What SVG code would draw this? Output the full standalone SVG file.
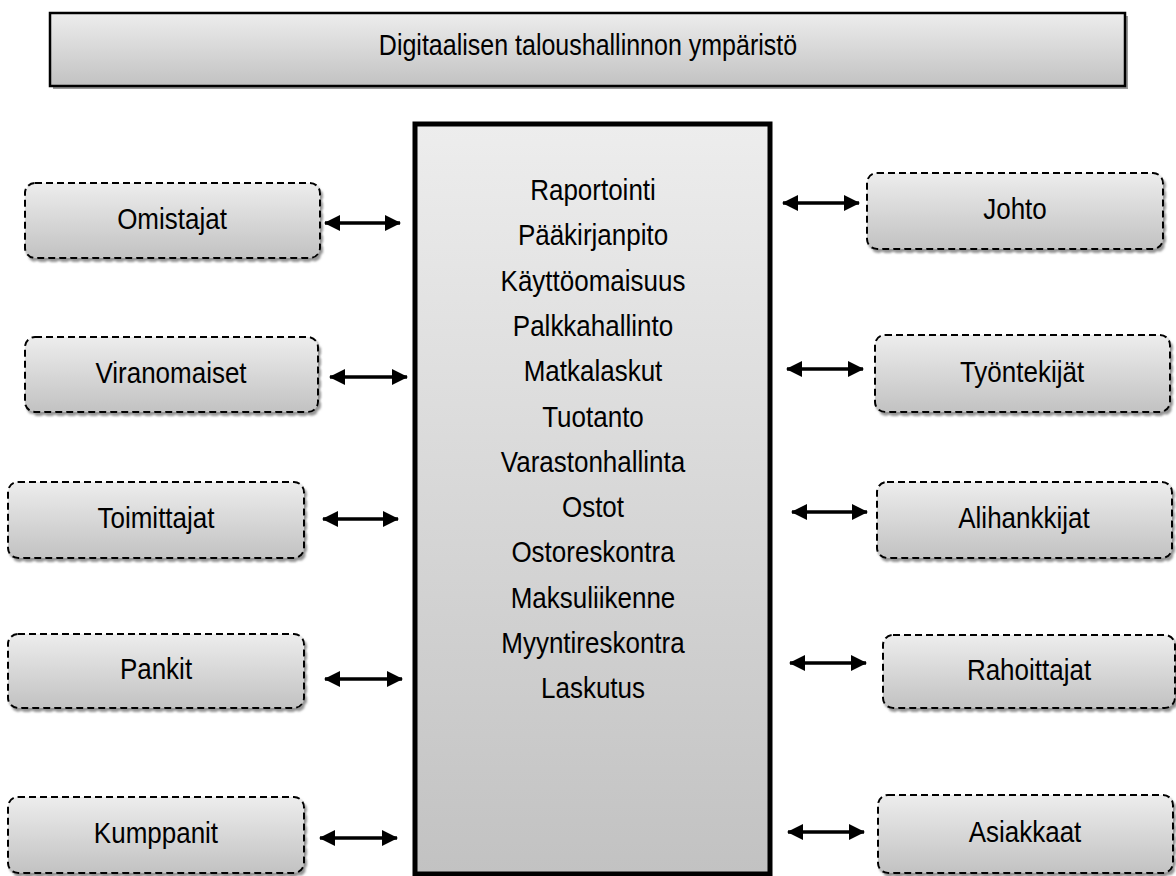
<svg xmlns="http://www.w3.org/2000/svg" width="1176" height="876" viewBox="0 0 1176 876">
  <defs>
    <linearGradient id="fillGrey" x1="0" y1="0" x2="0" y2="1">
      <stop offset="0" stop-color="#ededed"/>
      <stop offset="1" stop-color="#c2c2c2"/>
    </linearGradient>
    <filter id="shade" x="-5%" y="-10%" width="115%" height="130%">
      <feDropShadow dx="2" dy="3" stdDeviation="1" flood-color="#7a7a7a" flood-opacity="0.8"/>
    </filter>
    <marker id="head" viewBox="0 0 16 16" refX="15" refY="8" markerWidth="16" markerHeight="16" markerUnits="userSpaceOnUse" orient="auto-start-reverse">
      <path d="M0,0 L16,8 L0,16 Z" fill="#000"/>
    </marker>
  </defs>
  <style>
    text { font-family: "Liberation Sans", Arial, sans-serif; fill: #000; text-anchor: middle; }
    .lbl { font-size: 26px; transform: scaleY(1.15); transform-box: fill-box; transform-origin: center; }
    .ttl { font-size: 25px; }
    .node rect { fill: url(#fillGrey); stroke: #000; stroke-width: 2; stroke-dasharray: 7 4; filter: url(#shade); }
    .link line { stroke: #000; stroke-width: 3.5; marker-start: url(#head); marker-end: url(#head); }
  </style>
  <rect width="1176" height="876" fill="#fff"/>

  <!-- title banner -->
  <g id="title">
    <rect x="53" y="16" width="1075" height="73" fill="#9a9a9a"/>
    <rect x="50" y="13" width="1075" height="73" fill="url(#fillGrey)" stroke="#000" stroke-width="2.5"/>
    <text class="lbl ttl" x="588" y="54">Digitaalisen taloushallinnon ympäristö</text>
  </g>

  <!-- central system block -->
  <g id="core">
    <rect x="415" y="124" width="355" height="750" fill="url(#fillGrey)" stroke="#000" stroke-width="5"/>
    <text class="lbl" x="593" y="199">Raportointi</text>
    <text class="lbl" x="593" y="244">Pääkirjanpito</text>
    <text class="lbl" x="593" y="290">Käyttöomaisuus</text>
    <text class="lbl" x="593" y="335">Palkkahallinto</text>
    <text class="lbl" x="593" y="380">Matkalaskut</text>
    <text class="lbl" x="593" y="426">Tuotanto</text>
    <text class="lbl" x="593" y="471">Varastonhallinta</text>
    <text class="lbl" x="593" y="516">Ostot</text>
    <text class="lbl" x="593" y="561">Ostoreskontra</text>
    <text class="lbl" x="593" y="607">Maksuliikenne</text>
    <text class="lbl" x="593" y="652">Myyntireskontra</text>
    <text class="lbl" x="593" y="697">Laskutus</text>
  </g>

  <!-- left-hand parties -->
  <g id="omistajat" class="node">
    <rect x="25" y="183" width="295" height="75" rx="10"/>
    <text class="lbl" x="172" y="228">Omistajat</text>
  </g>
  <g id="viranomaiset" class="node">
    <rect x="25" y="337" width="293" height="75" rx="10"/>
    <text class="lbl" x="171" y="382">Viranomaiset</text>
  </g>
  <g id="toimittajat" class="node">
    <rect x="8" y="482" width="296" height="76" rx="10"/>
    <text class="lbl" x="156" y="527">Toimittajat</text>
  </g>
  <g id="pankit" class="node">
    <rect x="8" y="634" width="296" height="74" rx="10"/>
    <text class="lbl" x="156" y="678">Pankit</text>
  </g>
  <g id="kumppanit" class="node">
    <rect x="8" y="797" width="296" height="76" rx="10"/>
    <text class="lbl" x="156" y="842">Kumppanit</text>
  </g>

  <!-- right-hand parties -->
  <g id="johto" class="node">
    <rect x="867" y="173" width="296" height="76" rx="10"/>
    <text class="lbl" x="1015" y="218">Johto</text>
  </g>
  <g id="tyontekijat" class="node">
    <rect x="875" y="335" width="295" height="77" rx="10"/>
    <text class="lbl" x="1022" y="381">Työntekijät</text>
  </g>
  <g id="alihankkijat" class="node">
    <rect x="877" y="482" width="295" height="76" rx="10"/>
    <text class="lbl" x="1024" y="527">Alihankkijat</text>
  </g>
  <g id="rahoittajat" class="node">
    <rect x="883" y="635" width="292" height="73" rx="10"/>
    <text class="lbl" x="1029" y="679">Rahoittajat</text>
  </g>
  <g id="asiakkaat" class="node">
    <rect x="878" y="795" width="295" height="78" rx="10"/>
    <text class="lbl" x="1025" y="841">Asiakkaat</text>
  </g>

  <!-- two-way connectors -->
  <g id="connectors" class="link">
    <line x1="325" y1="223" x2="400" y2="223"/>
    <line x1="330" y1="377" x2="407" y2="377"/>
    <line x1="323" y1="519" x2="398" y2="519"/>
    <line x1="325" y1="679" x2="402" y2="679"/>
    <line x1="320" y1="838" x2="397" y2="838"/>
    <line x1="783" y1="203" x2="859" y2="203"/>
    <line x1="787" y1="369" x2="863" y2="369"/>
    <line x1="792" y1="512" x2="867" y2="512"/>
    <line x1="790" y1="663" x2="866" y2="663"/>
    <line x1="788" y1="832" x2="864" y2="832"/>
  </g>
</svg>
